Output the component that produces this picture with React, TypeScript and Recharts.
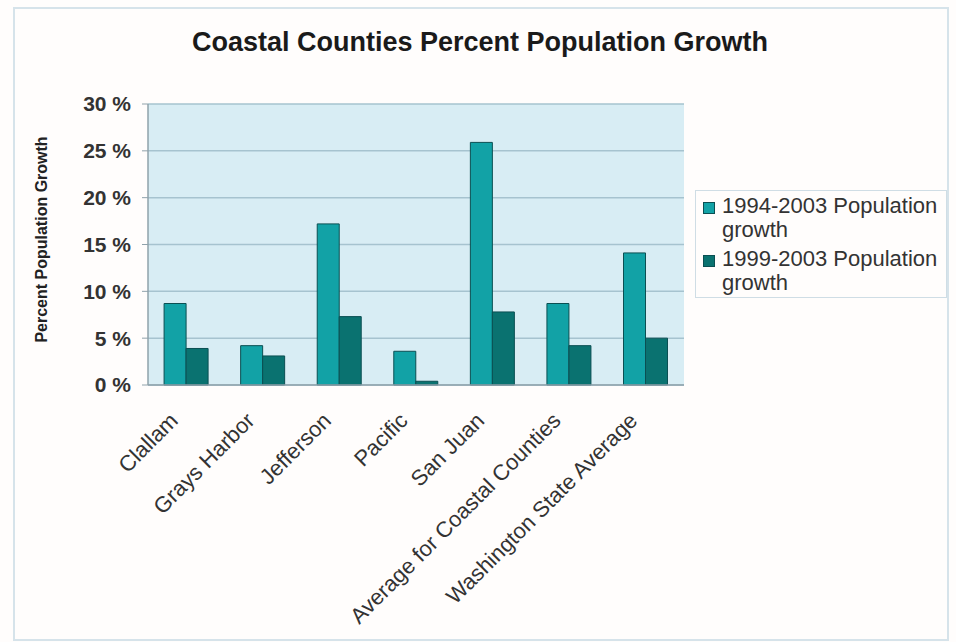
import React from 'react';
import { BarChart, Bar, XAxis, YAxis, CartesianGrid } from 'recharts';

const counties = [
  'Clallam',
  'Grays Harbor',
  'Jefferson',
  'Pacific',
  'San Juan',
  'Average for Coastal Counties',
  'Washington State Average',
];
const growth9403 = [8.7, 4.2, 17.2, 3.6, 25.9, 8.7, 14.1];
const growth9903 = [3.9, 3.1, 7.3, 0.4, 7.8, 4.2, 5.0];
const yTicks = [0, 5, 10, 15, 20, 25, 30];

const SERIES = [
  { key: 'long', name: '1994-2003 Population growth', color: '#12a2a6' },
  { key: 'short', name: '1999-2003 Population growth', color: '#0a7270' },
];

const FONT = '"Liberation Sans", Arial, sans-serif';

const data = counties.map((c, i) => ({ county: c, long: growth9403[i], short: growth9903[i] }));

// slanted category labels, end of text sits just left of the category centre
const SlantTick = ({ x, y, payload }: any) => {
  const ax = x - 7;
  const ay = y + 29;
  return (
    <text
      x={ax}
      y={ay}
      transform={`rotate(-45, ${ax}, ${ay})`}
      textAnchor="end"
      fontSize={22}
      fontFamily={FONT}
      fill="#333"
    >
      {payload.value}
    </text>
  );
};

const YLabel = ({ viewBox }: any) => {
  const cx = viewBox.x + 33;
  const cy = viewBox.y + viewBox.height / 2 - 5;
  return (
    <text
      x={cx}
      y={cy}
      transform={`rotate(-90, ${cx}, ${cy})`}
      textAnchor="middle"
      dominantBaseline="central"
      fontSize={16}
      fontWeight="bold"
      fontFamily={FONT}
      fill="#222"
    >
      Percent Population Growth
    </text>
  );
};

export default function App() {
  return (
    <div
      style={{
        position: 'absolute',
        left: 0,
        top: 0,
        width: 956,
        height: 642,
        background: '#fffdfc',
        fontFamily: FONT,
      }}
    >
      <div
        style={{
          position: 'absolute',
          left: 13,
          top: 7,
          width: 932,
          height: 630,
          border: '2px solid #d6e3ea',
        }}
      />
      <div
        style={{
          position: 'absolute',
          left: 0,
          width: 956,
          top: 27,
          textAlign: 'center',
          fontSize: 27,
          fontWeight: 'bold',
          color: '#1a1a1a',
        }}
      >
        <span style={{ marginLeft: 4 }}>Coastal Counties Percent Population Growth</span>
      </div>
      <div style={{ position: 'absolute', left: 0, top: 0 }}>
        <BarChart
          width={956}
          height={642}
          data={data}
          margin={{ top: 104, right: 272, bottom: 27, left: 8 }}
          barGap={0}
          barCategoryGap="21%"
        >
          <CartesianGrid vertical={false} fill="#d8edf4" stroke="#a6c3cf" strokeWidth={1.5} />
          <XAxis
            dataKey="county"
            height={230}
            interval={0}
            tick={<SlantTick />}
            tickLine={false}
            axisLine={{ stroke: '#8fa2ab', strokeWidth: 1.5 }}
          />
          <YAxis
            width={140}
            domain={[0, 30]}
            ticks={yTicks}
            tickFormatter={(v) => `${v} %`}
            tickSize={6}
            tickMargin={11}
            tick={{ fontSize: 21, fontWeight: 'bold', fill: '#333', fontFamily: FONT }}
            axisLine={{ stroke: '#8fa2ab', strokeWidth: 1.5 }}
            tickLine={{ stroke: '#8fa2ab' }}
            label={{ content: <YLabel /> }}
          />
          {SERIES.map((s) => (
            <Bar
              key={s.key}
              dataKey={s.key}
              name={s.name}
              fill={s.color}
              stroke="#0b4f52"
              strokeWidth={1}
              isAnimationActive={false}
            />
          ))}
        </BarChart>
      </div>
      <div
        style={{
          position: 'absolute',
          left: 695,
          top: 190,
          width: 252,
          height: 108,
          border: '1.5px solid #cfdde5',
          boxSizing: 'border-box',
          padding: '3px 0 0 7px',
        }}
      >
        {SERIES.map((s) => (
          <div key={s.key} style={{ display: 'flex', alignItems: 'flex-start', marginBottom: 5 }}>
            <div
              style={{
                width: 10,
                height: 10,
                background: s.color,
                border: '1px solid #0b4f52',
                marginTop: 8,
                marginRight: 7,
                flexShrink: 0,
              }}
            />
            <div style={{ fontSize: 22, lineHeight: '24px', color: '#333', whiteSpace: 'nowrap' }}>
              {s.name.replace(' growth', '')}
              <br />
              growth
            </div>
          </div>
        ))}
      </div>
    </div>
  );
}
